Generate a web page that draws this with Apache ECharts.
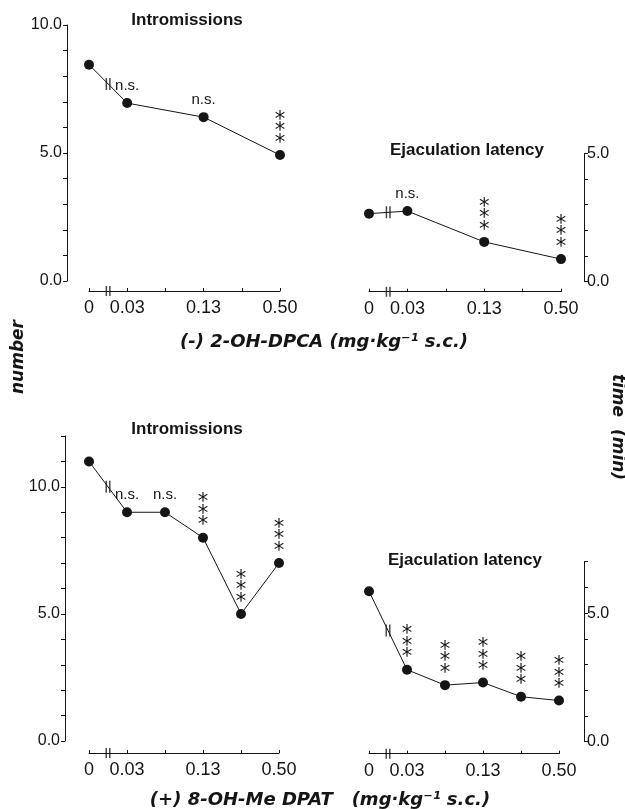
<!DOCTYPE html>
<html><head><meta charset="utf-8">
<script src="https://cdn.jsdelivr.net/npm/echarts@6/dist/echarts.min.js"></script>
<style>html,body{margin:0;padding:0;background:#fff}#c{width:625px;height:809px}</style>
</head><body><div id="c"></div>
<script>
// tick labels for the dose positions (0..5)
const xTickLabels = ['0', '0.03', '', '0.13', '', '0.50'];

// (-) 2-OH-DPCA
const dpcaDosePos = [0, 1, 3, 5];
const dpcaIntromissions = [8.45, 6.95, 6.4, 4.92];
const dpcaIntromSig = ['', 'n.s.', 'n.s.', '***'];
const dpcaEjacLatency = [2.65, 2.75, 1.55, 0.88];
const dpcaEjacSig = ['', 'n.s.', '***', '***'];

// (+) 8-OH-Me DPAT
const dpatDosePos = [0, 1, 2, 3, 4, 5];
const dpatIntromissions = [11.0, 9.0, 9.0, 8.0, 5.0, 7.0];
const dpatIntromSig = ['', 'n.s.', 'n.s.', '***', '***', '***'];
const dpatEjacLatency = [5.85, 2.8, 2.2, 2.3, 1.75, 1.6];
const dpatEjacSig = ['', '***', '***', '***', '***', '***'];

const INK = '#151515';
const BREAK = 'path://M0,0h1.4v10h-1.4zM3.4,0h1.4v10h-1.4z';

const panels = [
  {grid: {left: 89, top: 25, width: 191, height: 256}, yMax: 10, yPos: 'left', yOff: 22, xOff: 10,
   pos: dpcaDosePos, vals: dpcaIntromissions, sig: dpcaIntromSig},
  {grid: {left: 369, top: 153.3, width: 192, height: 128.4}, yMax: 5, yPos: 'right', yOff: 23, xOff: 10,
   pos: dpcaDosePos, vals: dpcaEjacLatency, sig: dpcaEjacSig},
  {grid: {left: 89, top: 436, width: 190, height: 305}, yMax: 12, yPos: 'left', yOff: 24, xOff: 12,
   pos: dpatDosePos, vals: dpatIntromissions, sig: dpatIntromSig},
  {grid: {left: 369, top: 561.7, width: 190, height: 180}, yMax: 7, yPos: 'right', yOff: 25, xOff: 12,
   pos: dpatDosePos, vals: dpatEjacLatency, sig: dpatEjacSig}
];

const grids = [], xAxes = [], yAxes = [], series = [];
panels.forEach((p, i) => {
  grids.push(Object.assign({containLabel: false}, p.grid));
  xAxes.push({
    type: 'value', gridIndex: i, min: 0, max: 5, interval: 1, offset: p.xOff, position: 'bottom',
    axisLine: {show: true, onZero: false, lineStyle: {color: INK, width: 1}},
    axisTick: {show: true, inside: true, length: 3, lineStyle: {color: INK}},
    axisLabel: {show: true, margin: 8, fontSize: 18, color: INK, fontFamily: 'Liberation Sans',
      showMinLabel: true, showMaxLabel: true,
      formatter: v => xTickLabels[Math.round(v)] || ''},
    splitLine: {show: false}
  });
  yAxes.push({
    type: 'value', gridIndex: i, min: 0, max: p.yMax, interval: 1, position: p.yPos, offset: p.yOff,
    axisLine: {show: true, onZero: false, lineStyle: {color: INK, width: 1}},
    axisTick: {show: true, inside: false, length: 4, lineStyle: {color: INK}},
    axisLabel: {show: true, margin: p.yPos === 'left' ? 5 : 3, fontSize: 16, color: INK,
      fontFamily: 'Liberation Sans',
      formatter: v => (v % 5 === 0 ? v.toFixed(1) : '')},
    splitLine: {show: false}
  });
  series.push({
    type: 'line', xAxisIndex: i, yAxisIndex: i, clip: false, z: 3,
    data: p.pos.map((x, k) => [x, p.vals[k]]),
    symbol: 'circle', symbolSize: 10,
    itemStyle: {color: INK},
    lineStyle: {color: INK, width: 1},
    label: {
      show: true, position: 'top', distance: 1,
      formatter: prm => {
        const s = p.sig[prm.dataIndex];
        if (s === '***') return '{a|*}\n{a|*}\n{a|*}';
        if (s) return '{n|' + s + '}';
        return '';
      },
      rich: {
        a: {fontFamily: 'DejaVu Sans', fontSize: 21, lineHeight: 11.5, color: INK},
        n: {fontFamily: 'Liberation Sans', fontSize: 15, color: INK, padding: [0, 0, 4, 0]}
      }
    }
  });
  // axis break on the x axis
  series.push({
    type: 'scatter', xAxisIndex: i, yAxisIndex: i, clip: false, z: 4, silent: true,
    data: [[0.5, 0]], symbol: BREAK, symbolSize: [5, 10], symbolOffset: [0, p.xOff],
    itemStyle: {color: INK}
  });
  // break on the connecting line between control and first dose
  series.push({
    type: 'scatter', xAxisIndex: i, yAxisIndex: i, clip: false, z: 4, silent: true,
    data: [[0.5, (p.vals[0] + p.vals[1]) / 2]], symbol: BREAK, symbolSize: [5, 12],
    itemStyle: {color: INK}
  });
});

const titleFont = 'bold 17px "Liberation Sans", Arial, sans-serif';
const axFont = 'italic bold 18px "DejaVu Sans", sans-serif';
const graphic = [
  {type: 'text', x: 187, y: 20, style: {text: 'Intromissions', font: titleFont, fill: INK, textAlign: 'center', textVerticalAlign: 'middle'}},
  {type: 'text', x: 467, y: 150, style: {text: 'Ejaculation latency', font: titleFont, fill: INK, textAlign: 'center', textVerticalAlign: 'middle'}},
  {type: 'text', x: 187, y: 429, style: {text: 'Intromissions', font: titleFont, fill: INK, textAlign: 'center', textVerticalAlign: 'middle'}},
  {type: 'text', x: 465, y: 560, style: {text: 'Ejaculation latency', font: titleFont, fill: INK, textAlign: 'center', textVerticalAlign: 'middle'}},
  {type: 'text', x: 324, y: 342, style: {text: '(-) 2-OH-DPCA (mg·kg⁻¹ s.c.)', font: axFont, fill: INK, textAlign: 'center', textVerticalAlign: 'middle'}},
  {type: 'text', x: 320, y: 800, style: {text: '(+) 8-OH-Me DPAT   (mg·kg⁻¹ s.c.)', font: axFont, fill: INK, textAlign: 'center', textVerticalAlign: 'middle'}},
  {type: 'text', x: 19, y: 357, rotation: Math.PI / 2, style: {text: 'number', font: 'italic bold 17px "DejaVu Sans", sans-serif', fill: INK, textAlign: 'center', textVerticalAlign: 'middle'}},
  {type: 'text', x: 617, y: 427, rotation: -Math.PI / 2, style: {text: 'time  (min)', font: 'italic bold 17px "DejaVu Sans", sans-serif', fill: INK, textAlign: 'center', textVerticalAlign: 'middle'}}
];

const chart = echarts.init(document.getElementById('c'), null, {renderer: 'canvas'});
chart.setOption({
  animation: false,
  backgroundColor: '#fff',
  grid: grids, xAxis: xAxes, yAxis: yAxes, series: series, graphic: graphic
});
</script>
</body></html>
